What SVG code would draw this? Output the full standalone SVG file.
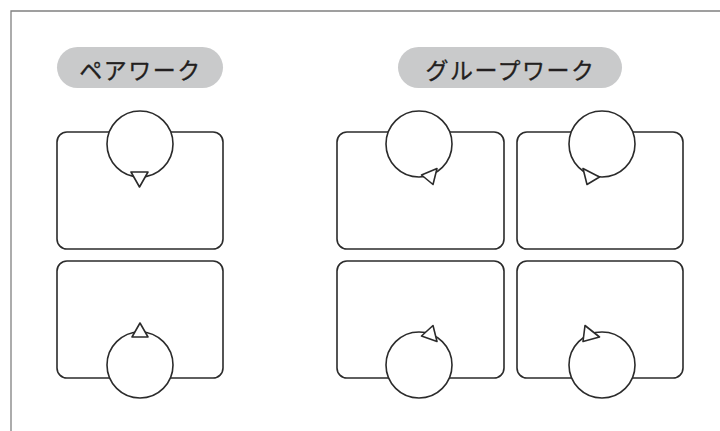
<svg xmlns="http://www.w3.org/2000/svg" width="720" height="431" viewBox="0 0 720 431">
<style>
.frame{fill:none;stroke:#808080;stroke-width:1.3}
.pill{fill:#c9cacb}
.lbl{font-family:"Noto Sans CJK JP","Noto Sans",sans-serif;font-size:23px;fill:#231f20;stroke:#231f20;stroke-width:0.3;text-anchor:middle;letter-spacing:1.5px}
.desk{fill:#fff;stroke:#2b2b2b;stroke-width:1.6}
.seat{fill:#fff;stroke:#2b2b2b;stroke-width:1.6}
.arr{fill:#fff;stroke:#2b2b2b;stroke-width:1.6;stroke-linejoin:round}
</style>
<rect width="720" height="431" fill="#fff"/>
<path class="frame" d="M11,431 V11 H720"/>
<g id="label-pair">
<rect class="pill" x="57" y="47" width="166" height="41" rx="20.5"/>
<text class="lbl" x="140.5" y="79">ペアワーク</text>
</g>
<g id="label-group">
<rect class="pill" x="398" y="47" width="224" height="41" rx="20.5"/>
<text class="lbl" x="510.5" y="79">グループワーク</text>
</g>
<g id="pair-top">
<rect class="desk" x="57" y="132" width="166" height="117" rx="10"/>
<circle class="seat" cx="140" cy="144" r="33"/>
<polygon class="arr" points="131,172 148,172 139.5,187"/>
</g>
<g id="pair-bottom">
<rect class="desk" x="57" y="261" width="166" height="117" rx="10"/>
<circle class="seat" cx="140" cy="365" r="33"/>
<polygon class="arr" points="132,337 148,337 140,323"/>
</g>
<g id="group-tl">
<rect class="desk" x="337" y="132" width="167" height="117" rx="10"/>
<circle class="seat" cx="419" cy="144" r="33"/>
<polygon class="arr" points="421.5,175 437,168.5 433,184.5"/>
</g>
<g id="group-tr">
<rect class="desk" x="517" y="132" width="166" height="117" rx="10"/>
<circle class="seat" cx="602" cy="144" r="33"/>
<polygon class="arr" points="583,168.5 599.5,177 587,184.5"/>
</g>
<g id="group-bl">
<rect class="desk" x="337" y="261" width="167" height="117" rx="10"/>
<circle class="seat" cx="419" cy="365" r="33"/>
<polygon class="arr" points="421.5,336 433,325.5 437,341.5"/>
</g>
<g id="group-br">
<rect class="desk" x="517" y="261" width="166" height="117" rx="10"/>
<circle class="seat" cx="602" cy="365" r="33"/>
<polygon class="arr" points="585,325.5 599.5,337 583,341.5"/>
</g>
<g id="connectors"/>
</svg>
